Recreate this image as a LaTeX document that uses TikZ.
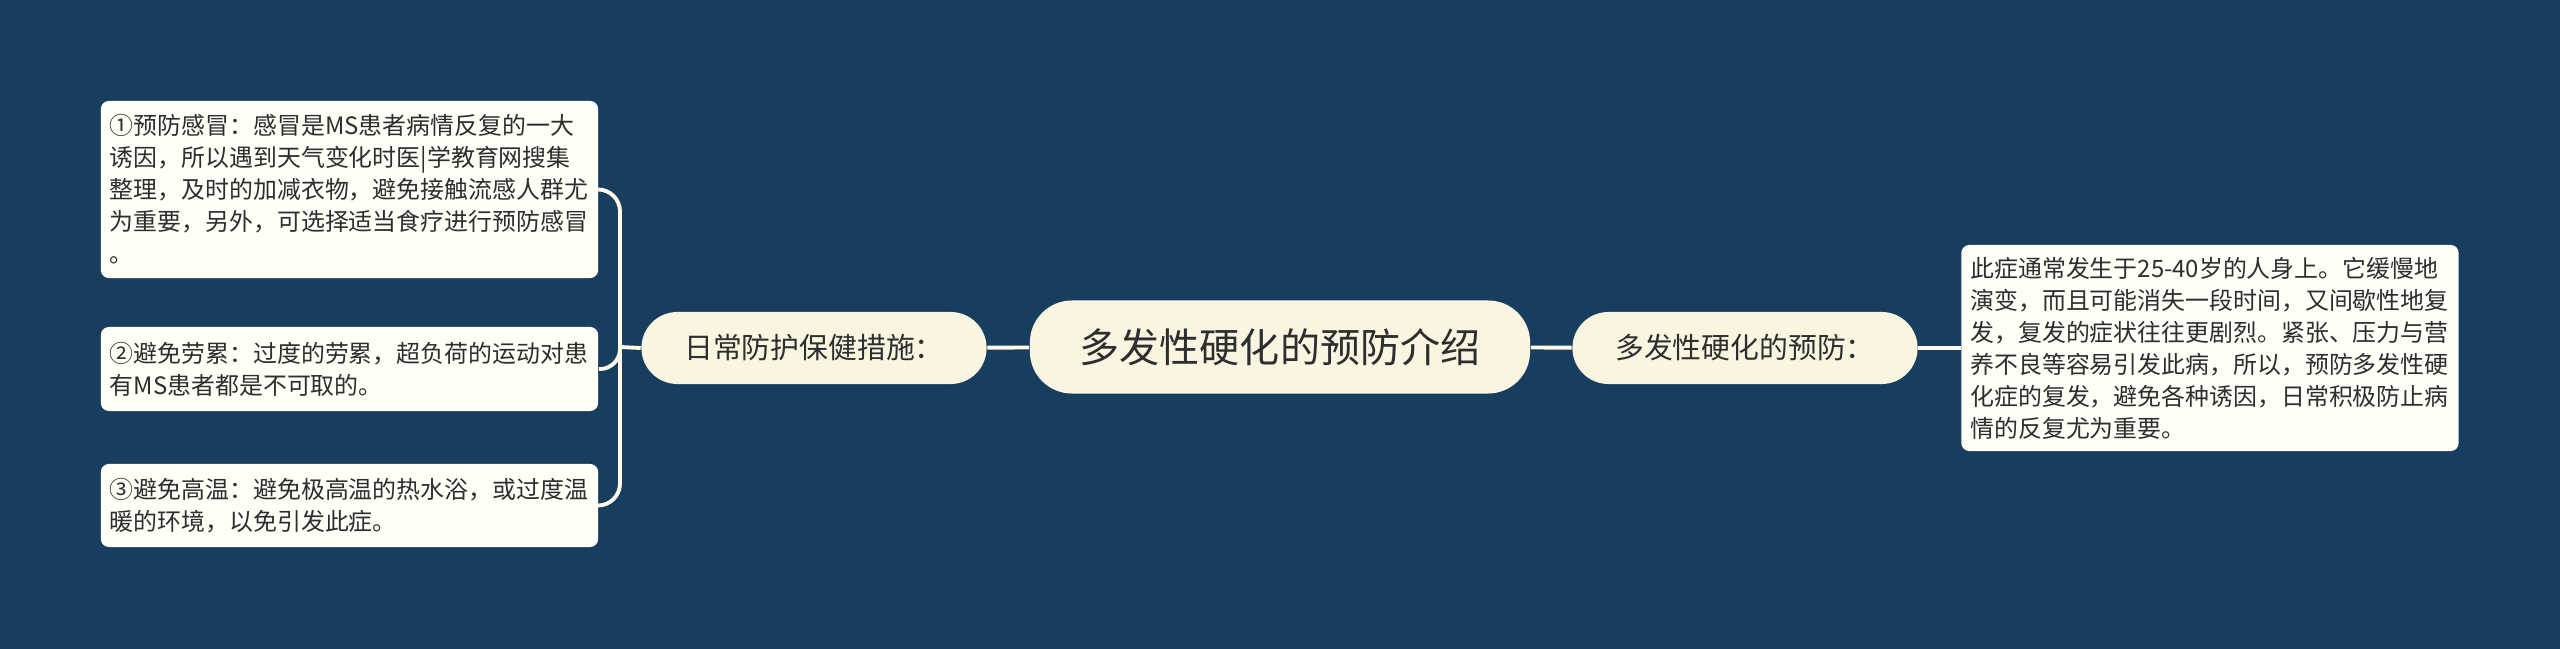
\documentclass[tikz,border=0pt]{standalone}
\usepackage{fontspec}
\setmainfont{Noto Sans CJK SC}
\usetikzlibrary{positioning}
\definecolor{bgblue}{HTML}{183E5F}
\definecolor{cream}{HTML}{FAF5E1}
\definecolor{leafwhite}{HTML}{FFFEF7}
\definecolor{linecol}{HTML}{FFF9EA}
\definecolor{txt}{HTML}{2E2E2E}

\begin{document}
\begin{tikzpicture}[x=0.01cm,y=-0.01cm,
  root/.style={fill=cream,rounded corners=0.42cm,minimum width=5cm,minimum height=0.93cm,
    inner sep=0pt,text=txt,font=\fontsize{11.4pt}{13pt}\selectfont},
  branch/.style={fill=cream,rounded corners=0.36cm,minimum width=3.45cm,minimum height=0.72cm,
    inner sep=0pt,text=txt,font=\fontsize{8.2pt}{10pt}\selectfont},
  leaf/.style={fill=leafwhite,rounded corners=0.08cm,text width=4.79cm,align=left,
    inner xsep=0.09cm,inner ysep=0pt,text=txt,font=\fontsize{6.8pt}{9.1pt}\selectfont},
  link/.style={draw=linecol,line width=1.1pt}]
\fill[bgblue] (0,0) rectangle (2560,649);

\node[root] (root) at (1280,347) {多发性硬化的预防介绍};
\node[branch] (daily) at (814,348) {日常防护保健措施：};
\node[branch] (prev) at (1745,348) {多发性硬化的预防：};

\node[leaf,minimum height=1.77cm] (cold) at (349.5,189.5) {①预防感冒：感冒是MS患者病情反复的一大\\
  诱因，所以遇到天气变化时医|学教育网搜集\\
  整理，及时的加减衣物，避免接触流感人群尤\\
  为重要，另外，可选择适当食疗进行预防感冒\\
  。};
\node[leaf,minimum height=0.84cm] (tired) at (349.5,369) {②避免劳累：过度的劳累，超负荷的运动对患\\
  有MS患者都是不可取的。};
\node[leaf,minimum height=0.83cm] (heat) at (349.5,505.5) {③避免高温：避免极高温的热水浴，或过度温\\
  暖的环境，以免引发此症。};
\node[leaf,minimum height=2.06cm] (onset) at (2210,348) {此症通常发生于25-40岁的人身上。它缓慢地\\
  演变，而且可能消失一段时间，又间歇性地复\\
  发，复发的症状往往更剧烈。紧张、压力与营\\
  养不良等容易引发此病，所以，预防多发性硬\\
  化症的复发，避免各种诱因，日常积极防止病\\
  情的反复尤为重要。};

\coordinate (j) at (620,347);
\draw[link] (root) -- (daily);
\draw[link] (daily.west) -- (j);
\draw[link,rounded corners=0.22cm] (j) |- (cold.east);
\draw[link,rounded corners=0.2cm] (j) |- (tired.east);
\draw[link,rounded corners=0.22cm] (j) |- (heat.east);
\draw[link] (root) -- (prev);
\draw[link] (prev) -- (onset);
\end{tikzpicture}
\end{document}
